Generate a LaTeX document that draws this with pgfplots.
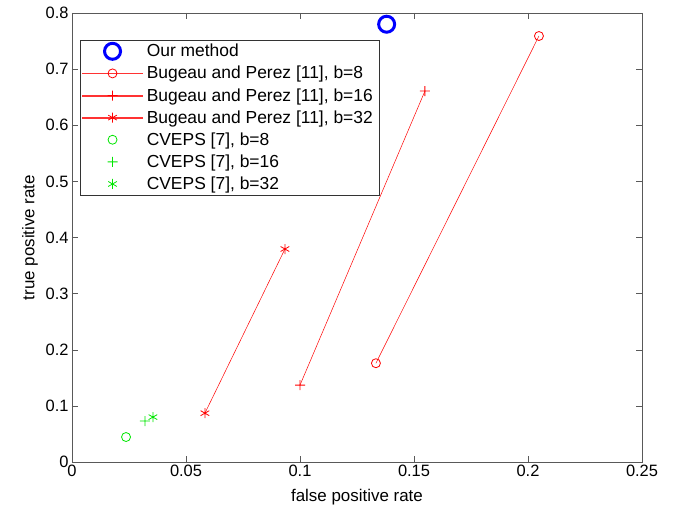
\documentclass[border=0pt]{standalone}
\usepackage{fontspec}
\setmainfont{Liberation Sans}
\usepackage{pgfplots}
\pgfplotsset{compat=1.18}
\definecolor{mgreen}{RGB}{0,230,0}
\pgfdeclareplotmark{plus}{%
  \pgfpathrectangle{\pgfqpoint{-\pgfplotmarksize}{-0.45bp}}{\pgfqpoint{2\pgfplotmarksize}{0.9bp}}%
  \pgfpathrectangle{\pgfqpoint{-0.45bp}{-\pgfplotmarksize}}{\pgfqpoint{0.9bp}{2\pgfplotmarksize}}%
  \pgfusepathqfill}
\pgfplotsset{
  lineleg/.style={legend image code/.code={\fill[red!80] (0bp,-0.3bp) rectangle (60bp,0.3bp); \draw[##1] plot coordinates {(30bp,0)};}},
  markleg/.style={legend image code/.code={\draw[##1] plot coordinates {(30bp,0)};}},
}
\begin{document}
\begin{tikzpicture}
\begin{axis}[
  name=ax,
  scale only axis, width=570bp, height=449bp,
  xmin=0, xmax=0.25, ymin=0, ymax=0.8,
  xtick={0,0.05,0.1,0.15,0.2,0.25}, ytick={0,0.1,...,0.8},
  tick align=inside, tick pos=both, major tick length=6bp,
  xticklabel style={/pgf/number format/fixed,/pgf/number format/precision=2},
  yticklabel style={/pgf/number format/fixed,/pgf/number format/precision=1},
  /pgf/number format/assume math mode=true,
  tick label style={font=\fontsize{16.5}{18}\selectfont},
  label style={font=\fontsize{17}{19}\selectfont},
  xlabel={false positive rate}, ylabel={true positive rate},
  xlabel style={yshift=-5bp}, ylabel style={yshift=1bp},
  axis line style={black!65}, every tick/.style={black!65},
  legend style={at={(0.014,0.94)}, anchor=north west, draw=black!80, line width=0.6pt,
    cells={anchor=west}, font=\fontsize{17.5}{19}\selectfont, row sep=4bp, inner sep=2bp,
    nodes={inner xsep=4bp}},
  clip=false,
]
\addplot[blue, only marks, mark=o, mark size=8bp, line width=3bp, markleg] coordinates {(0.138,0.780)};
\addplot[red, line width=0.5bp, mark=o, mark size=4.5bp, mark options={draw=red, line width=0.8bp}, lineleg] coordinates {(0.1333,0.176)(0.2048,0.759)};
\addplot[red, line width=0.5bp, mark=plus, mark size=5bp, mark options={draw=red, fill=red}, lineleg] coordinates {(0.100,0.137)(0.1548,0.661)};
\addplot[red, line width=0.5bp, mark=asterisk, mark size=5bp, mark options={draw=red, line width=0.8bp}, lineleg] coordinates {(0.0583,0.087)(0.0934,0.3795)};
\addplot[mgreen, only marks, mark=o, mark size=4.5bp, mark options={draw=mgreen, line width=0.8bp}, markleg] coordinates {(0.0237,0.0445)};
\addplot[mgreen, only marks, mark=plus, mark size=5bp, mark options={draw=mgreen, fill=mgreen}, markleg] coordinates {(0.032,0.073)};
\addplot[mgreen, only marks, mark=asterisk, mark size=5bp, mark options={draw=mgreen, line width=0.8bp}, markleg] coordinates {(0.0355,0.080)};
\legend{Our method, {Bugeau and Perez [11], b=8}, {Bugeau and Perez [11], b=16}, {Bugeau and Perez [11], b=32}, {CVEPS [7], b=8}, {CVEPS [7], b=16}, {CVEPS [7], b=32}}
\end{axis}
\pgfresetboundingbox
\path ([shift={(-72bp,-51bp)}]ax.south west) rectangle ([shift={(36bp,13bp)}]ax.north east);
\end{tikzpicture}
\end{document}
